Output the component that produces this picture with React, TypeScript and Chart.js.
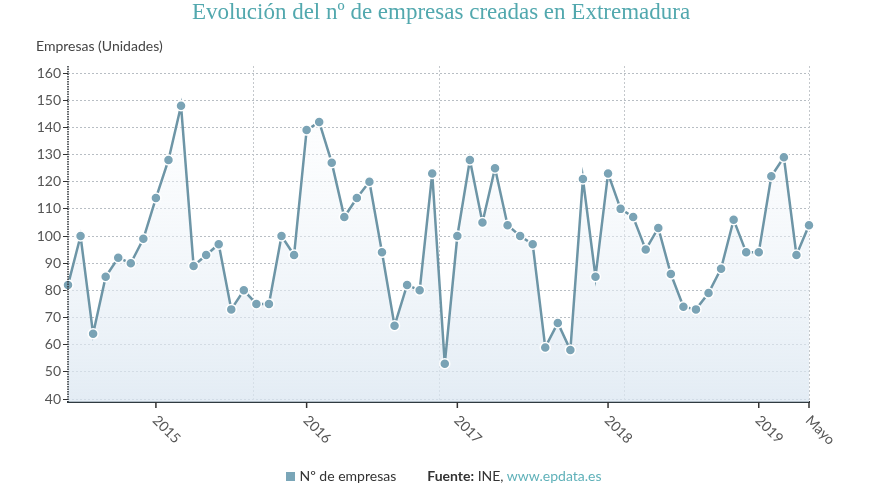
import React, { useEffect, useRef } from "react";
import { Chart, registerables } from "chart.js";

Chart.register(...registerables);

const months: string[] = [
  "2014-06", "2014-07", "2014-08", "2014-09", "2014-10", "2014-11", "2014-12",
  "2015-01", "2015-02", "2015-03", "2015-04", "2015-05", "2015-06", "2015-07", "2015-08", "2015-09", "2015-10", "2015-11", "2015-12",
  "2016-01", "2016-02", "2016-03", "2016-04", "2016-05", "2016-06", "2016-07", "2016-08", "2016-09", "2016-10", "2016-11", "2016-12",
  "2017-01", "2017-02", "2017-03", "2017-04", "2017-05", "2017-06", "2017-07", "2017-08", "2017-09", "2017-10", "2017-11", "2017-12",
  "2018-01", "2018-02", "2018-03", "2018-04", "2018-05", "2018-06", "2018-07", "2018-08", "2018-09", "2018-10", "2018-11", "2018-12",
  "2019-01", "2019-02", "2019-03", "2019-04", "2019-05",
];

const empresas: number[] = [
  82, 100, 64, 85, 92, 90, 99,
  114, 128, 148, 89, 93, 97, 73, 80, 75, 75, 100, 93,
  139, 142, 127, 107, 114, 120, 94, 67, 82, 80, 123, 53,
  100, 128, 105, 125, 104, 100, 97, 59, 68, 58, 121, 85,
  123, 110, 107, 95, 103, 86, 74, 73, 79, 88, 106, 94,
  94, 122, 129, 93, 104,
];

const tickMonths: string[] = ["2015-01", "2016-01", "2017-01", "2018-01", "2019-01", "2019-05"];
const tickTexts: string[] = ["2015", "2016", "2017", "2018", "2019", "Mayo"];
const yTicks: number[] = [40, 50, 60, 70, 80, 90, 100, 110, 120, 130, 140, 150, 160];

const SANS = "Lato, 'Open Sans', sans-serif";

const customPlugin = {
  id: "custom",
  beforeDatasetsDraw(chart: any) {
    const { ctx, chartArea } = chart;
    ctx.save();
    ctx.strokeStyle = "#c4c8cc";
    ctx.lineWidth = 1;
    ctx.setLineDash([2, 2]);
    const w = chartArea.right - chartArea.left;
    for (let k = 1; k <= 4; k++) {
      const x = Math.round(chartArea.left + (k * w) / 4) + 0.5;
      ctx.beginPath();
      ctx.moveTo(x, chartArea.top);
      ctx.lineTo(x, chartArea.bottom);
      ctx.stroke();
    }
    ctx.restore();
  },
  afterDraw(chart: any) {
    const { ctx, chartArea } = chart;
    const xs = chart.scales.x;
    ctx.save();
    // left axis: dark dotted line
    ctx.strokeStyle = "#2a2f33";
    ctx.lineWidth = 1.5;
    ctx.setLineDash([1.5, 1]);
    ctx.beginPath();
    ctx.moveTo(chartArea.left, chartArea.top);
    ctx.lineTo(chartArea.left, chartArea.bottom);
    ctx.stroke();
    ctx.setLineDash([]);
    ctx.strokeStyle = "#333";
    ctx.fillStyle = "#555";
    ctx.font = `14px ${SANS}`;
    tickMonths.forEach((m, i) => {
      const idx = months.indexOf(m);
      const x = xs.getPixelForValue(idx);
      ctx.beginPath();
      ctx.moveTo(x, chartArea.bottom);
      ctx.lineTo(x, chartArea.bottom + 6);
      ctx.stroke();
      ctx.save();
      ctx.translate(x - 1, chartArea.bottom + 16);
      ctx.rotate(Math.PI / 4);
      ctx.textAlign = "left";
      ctx.textBaseline = "middle";
      ctx.fillText(tickTexts[i], 0, 0);
      ctx.restore();
    });
    ctx.restore();
  },
};

export default function App() {
  const ref = useRef<HTMLCanvasElement | null>(null);

  useEffect(() => {
    document.body.style.margin = "0";
    const canvas = ref.current!;
    const chart = new Chart(canvas, {
      type: "line",
      data: {
        labels: months,
        datasets: [
          {
            label: "Nº de empresas",
            data: empresas,
            borderColor: "#6d95a6",
            borderWidth: 2.5,
            pointBackgroundColor: "#7aa3b5",
            pointBorderColor: "#ffffff",
            pointBorderWidth: 1.5,
            pointRadius: 5,
            tension: 0,
            fill: "start",
            backgroundColor: (c: any) => {
              const area = c.chart.chartArea;
              if (!area) return "rgba(225,235,244,0.6)";
              const g = c.chart.ctx.createLinearGradient(0, area.top, 0, area.bottom);
              g.addColorStop(0, "rgba(255,255,255,0.3)");
              g.addColorStop(1, "rgba(218,230,241,0.75)");
              return g;
            },
          },
        ],
      },
      options: {
        responsive: false,
        animation: false,
        devicePixelRatio: 1,
        layout: { padding: { left: 18, right: 71, top: 66, bottom: 93 } },
        plugins: { legend: { display: false }, tooltip: { enabled: false }, title: { display: false } },
        scales: {
          x: {
            type: "category",
            offset: false,
            grid: { display: false },
            border: { display: true, color: "#2f3a40", width: 2 },
            ticks: { display: false },
            afterFit: (s: any) => {
              s.height = 0;
            },
          },
          y: {
            min: 38.9,
            max: 162.6,
            afterBuildTicks: (s: any) => {
              s.ticks = yTicks.map((v) => ({ value: v }));
            },
            afterFit: (s: any) => {
              s.width = 50;
            },
            grid: {
              color: "#b8bec4",
              lineWidth: 1,
              tickColor: "#333",
              tickLength: 5,
              tickBorderDash: [],
            } as any,
            border: { display: false, dash: [2, 2] },
            ticks: {
              color: "#555",
              font: { family: SANS, size: 14 },
              padding: 2,
            },
          },
        },
      } as any,
      plugins: [customPlugin],
    });
    return () => chart.destroy();
  }, []);

  return (
    <div style={{ position: "fixed", left: 0, top: 0, width: 880, height: 495, background: "#fff", overflow: "hidden" }}>
      <canvas ref={ref} width={880} height={495} style={{ position: "absolute", left: 0, top: 0, width: 880, height: 495 }} />
      <div
        style={{
          position: "absolute",
          left: 0,
          top: -1,
          width: 880,
          textAlign: "center",
          fontFamily: "'Liberation Serif', serif",
          fontSize: 23,
          lineHeight: "26px",
          color: "#52a8ae",
          paddingLeft: 1,
        }}
      >
        Evolución del nº de empresas creadas en Extremadura
      </div>
      <div
        style={{
          position: "absolute",
          left: 36,
          top: 37,
          fontFamily: SANS,
          fontSize: 14,
          lineHeight: "18px",
          color: "#444",
        }}
      >
        Empresas (Unidades)
      </div>
      <div
        style={{
          position: "absolute",
          left: 0,
          top: 467,
          width: 880,
          display: "flex",
          justifyContent: "center",
          alignItems: "center",
          fontFamily: SANS,
          fontSize: 14,
          lineHeight: "18px",
          color: "#333",
          paddingLeft: 4,
        }}
      >
        <span style={{ display: "inline-block", width: 9, height: 9, background: "#7aa6b8", marginRight: 4 }} />
        <span>Nº de empresas</span>
        <span style={{ marginLeft: 31 }}>
          <b>Fuente:</b> INE, <span style={{ color: "#5fb1b9" }}>www.epdata.es</span>
        </span>
      </div>
    </div>
  );
}
